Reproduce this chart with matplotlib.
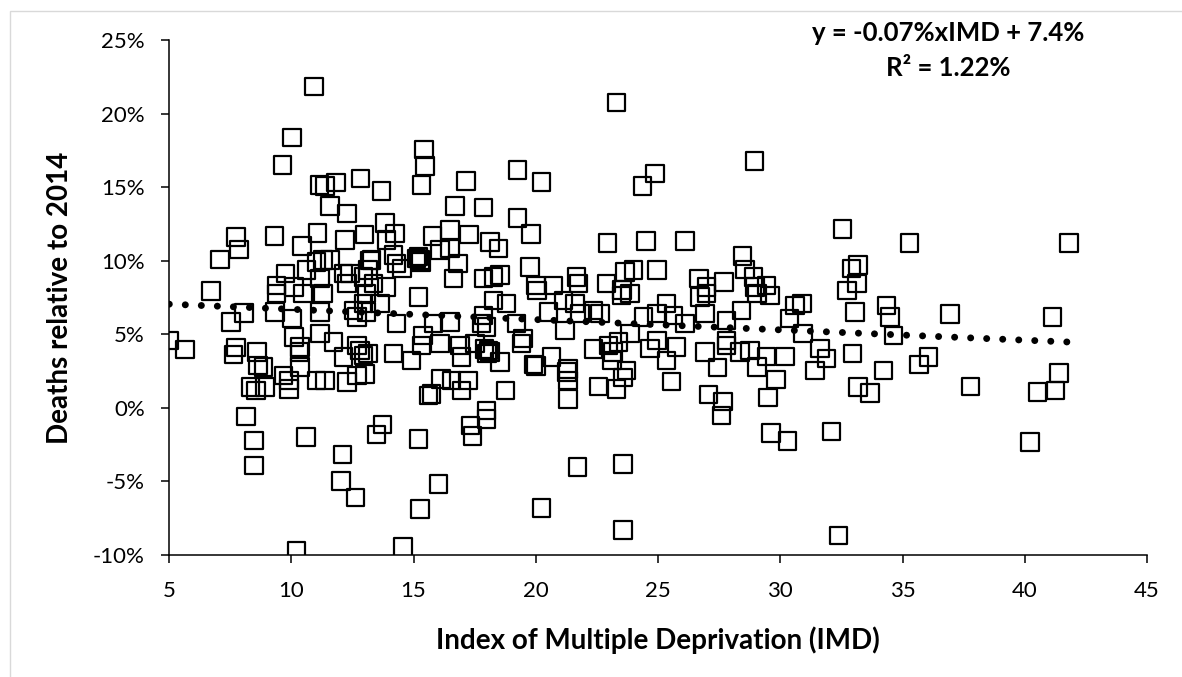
import matplotlib
matplotlib.use("Agg")
import matplotlib.pyplot as plt
from matplotlib.patches import Rectangle
import numpy as np

# ---- data (IMD score, deaths relative to 2014 in %) ----
imd = [
    10.94, 10.04, 9.64, 11.15, 11.38, 11.82, 12.84, 11.59, 12.27, 7.73, 7.86, 9.31, 11.08, 10.45,
    12.2, 13.0, 7.09, 6.72, 9.40, 9.77, 10.11, 10.63, 11.04, 11.31, 11.59, 11.18, 12.13, 12.4,
    12.27, 12.95, 13.22,
    23.31, 15.43, 15.47, 15.33, 13.70, 17.15, 19.25, 20.24, 16.7, 17.86, 19.25, 19.81, 22.94,
    13.83, 14.24, 13.9, 15.78, 16.49, 17.28, 18.13, 18.47, 16.08, 16.49, 16.83, 15.13, 15.27,
    15.2, 15.3, 14.18, 13.29, 13.15, 14.31, 14.52, 19.77, 20.72, 20.01, 21.67, 21.74, 22.9, 23.65,
    23.52, 17.86, 18.27, 18.54, 16.63, 13.36, 13.9,
    28.94, 24.88, 24.37, 24.51, 26.1, 32.54, 35.28, 23.99, 24.97, 28.46, 28.56, 28.9, 29.44,
    28.97, 32.92, 33.19, 33.13, 26.68, 26.99, 27.7,
    41.8,
    5.01, 5.65, 7.54, 7.74, 7.63, 8.07, 8.59, 8.65, 8.86, 8.34, 8.56, 8.93, 8.15, 8.48, 8.48,
    9.34, 10.02, 10.11, 10.36, 10.33, 10.36, 9.91, 9.91, 9.68, 10.6, 10.22, 11.04, 11.38, 11.18,
    11.72, 12.13, 12.68, 12.27, 12.68, 13.02, 12.09, 12.04, 12.63, 11.18, 12.68, 12.54, 13.08,
    9.4, 10.49, 11.31, 13.08, 12.81, 12.95,
    14.58, 15.27, 16.02, 15.2, 13.74, 13.49, 20.24, 21.7, 23.58, 23.58, 17.34, 17.42, 17.99,
    17.99, 15.61, 15.74, 16.12, 16.56, 16.97, 17.24, 18.77, 21.33, 21.33, 21.27, 21.33, 22.56,
    23.31, 23.58, 23.72, 23.11, 19.9, 20.0, 20.65, 18.54, 16.97, 14.92, 14.18, 13.15, 15.33,
    16.08, 16.9, 17.52, 18.06, 18.13, 17.9, 18.0, 19.42, 19.49, 21.13, 21.61, 20.52, 21.81,
    22.36, 22.63, 21.2, 22.36, 22.97, 23.17, 23.38, 23.86, 23.5, 23.85, 20.04, 18.81, 18.27,
    17.86, 17.79, 17.99, 19.22, 15.2, 14.31, 15.4, 13.63, 12.95, 15.81, 16.49,
    32.38, 32.1, 29.62, 30.3, 27.06, 27.67, 27.6, 29.51, 29.83, 33.19, 33.67, 34.22, 25.56,
    27.43, 29.04, 29.44, 30.2, 31.42, 31.9, 32.95, 34.63, 34.49, 34.35, 33.06, 31.63, 30.94,
    30.37, 30.88, 30.6, 28.42, 27.81, 26.92, 27.81, 27.81, 28.35, 28.76, 25.76, 25.35, 24.95,
    24.67, 24.4, 24.95, 25.63, 26.1, 25.35, 26.72, 26.92, 26.99, 29.04, 29.58, 32.72,
    36.94, 41.14, 35.68, 36.06, 37.79, 41.4, 40.52, 41.26, 40.21,
]
deaths_pct = [
    21.83, 18.36, 16.5, 15.14, 15.07, 15.32, 15.59, 13.73, 13.21, 11.62, 10.76, 11.69, 11.89, 10.99,
    11.39, 11.78, 10.08, 7.95, 8.33, 9.13, 8.22, 9.35, 9.92, 10.03, 10.03, 8.79, 9.13, 9.13,
    8.45, 8.9, 10.0,
    20.74, 17.56, 16.43, 15.14, 14.75, 15.41, 16.16, 15.36, 13.73, 13.62, 12.91, 11.8, 11.21,
    12.57, 11.85, 11.4, 11.67, 12.07, 11.78, 11.28, 10.83, 10.71, 10.83, 9.81, 10.15, 10.03,
    10.3, 9.9, 10.37, 10.03, 9.35, 9.81, 9.47, 9.58, 8.33, 8.33, 8.9, 8.45, 8.45, 9.24,
    8.0, 8.79, 8.9, 9.01, 8.79, 8.45, 8.22,
    16.79, 15.93, 15.09, 11.33, 11.33, 12.14, 11.21, 9.35, 9.35, 10.31, 9.4, 8.9, 8.33,
    8.22, 9.47, 9.69, 8.45, 8.79, 8.22, 8.56,
    11.21,
    4.59, 3.96, 5.84, 4.09, 3.64, 6.45, 3.8, 2.89, 2.78, 1.42, 1.19, 1.42, -0.58, -2.21, -3.91,
    6.52, 6.07, 4.82, 4.14, 3.8, 2.78, 1.87, 1.3, 2.21, -1.98, -9.69, 1.87, 1.87, 5.04,
    4.48, 3.46, 4.25, 1.76, 2.21, 2.32, -3.16, -4.98, -6.1, 6.52, 6.18, 6.63, 6.52,
    7.77, 7.77, 7.77, 7.77, 3.91, 3.57,
    -9.47, -6.86, -5.16, -2.1, -1.12, -1.8, -6.79, -4.03, -3.8, -8.29, -1.19, -1.92, -0.17,
    -0.74, 0.85, 0.96, 1.98, 1.87, 1.19, 1.87, 1.19, 0.62, 1.87, 2.44, 2.66, 1.46,
    1.3, 2.05, 2.55, 3.23, 2.96, 2.85, 3.46, 3.12, 3.46, 3.23, 3.68, 3.7, 4.25,
    4.36, 4.25, 4.36, 3.91, 3.8, 4.0, 3.7, 4.36, 4.7, 7.31, 7.09, 6.52, 6.41,
    6.63, 6.41, 5.27, 4.01, 4.25, 3.8, 4.48, 5.04, 7.65, 7.77, 7.99, 7.09, 7.31,
    6.29, 5.73, 5.5, 5.73, 7.54, 5.73, 4.93, 7.09, 7.09, 5.73, 5.84,
    -8.67, -1.6, -1.71, -2.26, 0.92, 0.44, -0.51, 0.69, 1.92, 1.42, 1.01, 2.55, 1.8,
    2.73, 2.78, 3.5, 3.5, 2.55, 3.34, 3.68, 4.93, 6.18, 6.97, 6.52, 4.03, 5.04,
    6.06, 7.09, 6.97, 6.63, 5.95, 3.8, 4.25, 4.59, 3.8, 3.91, 4.14, 3.23, 4.59,
    4.03, 6.18, 6.41, 6.29, 5.73, 7.09, 7.54, 6.41, 7.77, 7.77, 7.65, 7.99,
    6.36, 6.18, 2.96, 3.46, 1.46, 2.37, 1.08, 1.19, -2.32,
]

x_ticks = [5, 10, 15, 20, 25, 30, 35, 40, 45]
y_ticks = [-10, -5, 0, 5, 10, 15, 20, 25]
y_tick_labels = ["-10%", "-5%", "0%", "5%", "10%", "15%", "20%", "25%"]

trend_slope = -0.07      # % per IMD point
trend_intercept = 7.4    # %
eq_text = "y = -0.07%xIMD + 7.4%"
r2_text = "R\u00b2 = 1.22%"
x_label = "Index of Multiple Deprivation (IMD)"
y_label = "Deaths relative to 2014"

# ---- figure ----
plt.rcParams['font.family'] = ['Lato', 'DejaVu Sans']
W, H = 1182, 677
fig = plt.figure(figsize=(W / 100, H / 100), dpi=100)
ax = fig.add_axes([169 / W, 1 - 555 / H, (1147 - 169) / W, 515 / H])

ax.scatter(imd, deaths_pct, marker='s', s=160, facecolors='none',
           edgecolors='black', linewidths=1.6, zorder=3)

xl = np.array([min(imd), max(imd)])
ax.plot(xl, trend_slope * xl + trend_intercept, color='black', lw=5,
        linestyle=(0, (0.01, 2.3)), dash_capstyle='round', zorder=4)

ax.set_xlim(5, 45)
ax.set_ylim(-10, 25)
ax.set_xticks(x_ticks)
ax.set_yticks(y_ticks, y_tick_labels)
for s in ['top', 'right']:
    ax.spines[s].set_visible(False)
for s in ['left', 'bottom']:
    ax.spines[s].set_linewidth(1.1)
ax.tick_params(direction='out', length=5.5, width=1.1, labelsize=16, colors='black')
ax.tick_params(axis='x', pad=13)
ax.tick_params(axis='y', pad=12)

ax.set_xlabel(x_label, fontsize=20, fontweight='bold')
ax.xaxis.set_label_coords(0.5, (555 - 640) / 515)
ax.xaxis.label.set_va('center')
ax.set_ylabel(y_label, fontsize=20, fontweight='bold')
ax.yaxis.set_label_coords((60 - 169) / 978, 0.5)
ax.yaxis.label.set_va('center')

fig.text(948 / W, 1 - 33 / H, eq_text, ha='center', va='center', fontsize=18.5, fontweight='bold')
fig.text(948 / W, 1 - 68 / H, r2_text, ha='center', va='center', fontsize=18.5, fontweight='bold')

border = Rectangle((10 / W, -0.1), 2, 1 - 11 / H + 0.1, transform=fig.transFigure,
                   fill=False, edgecolor='#d9d9d9', lw=1, clip_on=False)
fig.add_artist(border)

fig.savefig('out.png', dpi=100)
